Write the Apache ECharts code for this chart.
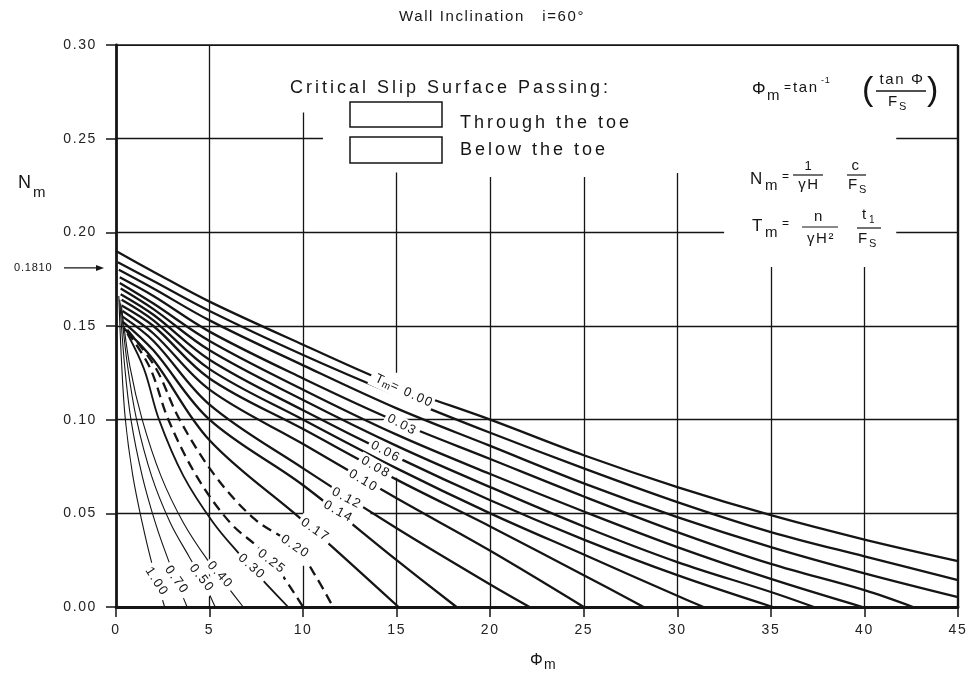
<!DOCTYPE html>
<html><head><meta charset="utf-8">
<script src="https://cdn.jsdelivr.net/npm/echarts@6/dist/echarts.min.js"></script>
<style>html,body{margin:0;padding:0;background:#fff}#c{width:972px;height:677px}</style>
</head><body><div id="c"></div>
<script>
// ---------- data ----------
const phiTicks = [0, 5, 10, 15, 20, 25, 30, 35, 40, 45];
const nmTicks = [0.00, 0.05, 0.10, 0.15, 0.20, 0.25, 0.30];

// Tm curves : [phi_m (deg), N_m]
const tm000 = [[0,0.190],[2,0.179],[5,0.163],[10,0.140],[15,0.118],[20,0.100],[25,0.081],[30,0.064],[35,0.049],[40,0.036],[45,0.0245]];
const tm001 = [[0.1,0.184],[2,0.174],[5,0.158],[10,0.1345],[15,0.113],[20,0.093],[25,0.074],[30,0.056],[35,0.040],[40,0.027],[45,0.0144]];
const tm002 = [[0.15,0.180],[2,0.170],[5,0.153],[10,0.129],[15,0.106],[20,0.086],[25,0.066],[30,0.048],[35,0.032],[40,0.018],[45,0.0053]];
const tm003 = [[0.2,0.176],[2,0.166],[5,0.147],[10,0.122],[15,0.099],[20,0.079],[25,0.059],[30,0.040],[35,0.023],[40,0.009],[42.6,0]];
const tm004 = [[0.2,0.173],[2,0.162],[5,0.142],[10,0.116],[15,0.092],[20,0.071],[25,0.051],[30,0.032],[35,0.015],[39.9,0]];
const tm005 = [[0.25,0.170],[2,0.159],[5,0.137],[10,0.1105],[15,0.086],[20,0.064],[25,0.043],[30,0.024],[35,0.008],[37.3,0]];
const tm006 = [[0.25,0.167],[2,0.156],[5,0.132],[10,0.105],[15,0.080],[20,0.057],[25,0.036],[30,0.017],[35.1,0]];
const tm007 = [[0.3,0.164],[2,0.153],[5,0.127],[10,0.100],[15,0.074],[20,0.050],[25,0.028],[30,0.006],[31.4,0]];
const tm008 = [[0.3,0.161],[2,0.150],[5,0.122],[10,0.095],[15,0.068],[20,0.043],[25,0.017],[28.2,0]];
const tm010 = [[0.35,0.158],[2,0.146],[5,0.116],[10,0.087],[15,0.058],[20,0.030],[25.0,0]];
const tm012 = [[0.35,0.155],[2,0.142],[5,0.108],[10,0.074],[15,0.042],[20,0.012],[22.1,0]];
const tm014 = [[0.4,0.152],[2,0.137],[5,0.100],[10,0.065],[15,0.025],[18.2,0]];
const tm017 = [[0.4,0.149],[2,0.132],[5,0.089],[10,0.046],[15.1,0]];
const tm020 = [[0.6,0.148],[2.1,0.128],[3.4,0.100],[5.3,0.070],[7.4,0.047],[9.6,0.032],[10.7,0.016],[11.6,0]];
const tm025 = [[0.6,0.147],[1.8,0.128],[2.8,0.100],[4.3,0.070],[6.1,0.045],[7.7,0.031],[8.6,0.021],[10.0,0]];
const tm030 = [[0.6,0.146],[1.5,0.127],[2.3,0.100],[3.6,0.070],[5.2,0.045],[6.7,0.027],[7.5,0.018],[9.2,0]];
const tm040 = [[0.3,0.160],[0.75,0.128],[1.4,0.100],[2.4,0.070],[3.6,0.045],[4.9,0.025],[6.8,0]];
const tm050 = [[0.25,0.162],[0.6,0.130],[1.1,0.100],[1.9,0.070],[2.9,0.045],[3.9,0.027],[4.6,0.015],[5.3,0]];
const tm070 = [[0.2,0.164],[0.45,0.130],[0.8,0.100],[1.4,0.070],[2.1,0.045],[2.8,0.025],[3.8,0]];
const tm100 = [[0.15,0.166],[0.3,0.130],[0.5,0.100],[0.9,0.070],[1.4,0.045],[1.9,0.024],[2.6,0]];

const markedNm = 0.1810;

// ---------- series definitions (style only) ----------
const thick = {width: 2.3, type: 'solid'};
const dashed = {width: 2.3, type: [10, 6]};
const thin = {width: 1.1, type: 'solid'};
const curveDefs = [
  ['0.00', tm000, thick], ['0.01', tm001, thick], ['0.02', tm002, thick], ['0.03', tm003, thick],
  ['0.04', tm004, thick], ['0.05', tm005, thick], ['0.06', tm006, thick], ['0.07', tm007, thick],
  ['0.08', tm008, thick], ['0.10', tm010, thick], ['0.12', tm012, thick], ['0.14', tm014, thick],
  ['0.17', tm017, thick], ['0.20', tm020, dashed], ['0.25', tm025, dashed], ['0.30', tm030, {width:1.8,type:'solid'}],
  ['0.40', tm040, thin], ['0.50', tm050, thin], ['0.70', tm070, thin], ['1.00', tm100, thin]
];

// label anchors on the curves [text, phi, Nm, clockwise rotation deg]
const curveLabelPos = [
  ['0.00', 15.29, 0.1158, 25], ['0.03', 15.29, 0.0972, 28], ['0.06', 14.41, 0.0829, 28],
  ['0.08', 13.88, 0.0746, 30], ['0.10', 13.22, 0.0674, 31], ['0.12', 12.33, 0.0580, 28],
  ['0.14', 11.88, 0.0509, 29], ['0.17', 10.64, 0.0411, 34], ['0.20', 9.57, 0.0322, 34],
  ['0.25', 8.32, 0.0242, 38], ['0.30', 7.25, 0.0215, 42], ['0.40', 5.56, 0.0171, 48],
  ['0.50', 4.58, 0.0153, 52], ['0.70', 3.24, 0.0144, 54], ['1.00', 2.17, 0.0135, 57]
];

// drafted grid segments [phi1, Nm1, phi2, Nm2, width]
const gridSegs = [
  [0,0.25,11.06,0.25,1.3],[41.7,0.25,45,0.25,1.3],
  [0,0.20,32.5,0.20,1.3],[41.7,0.20,45,0.20,1.3],
  [0,0.15,45,0.15,1.3],[0,0.10,45,0.10,1.3],
  [0,0.05,10,0.05,1.3],[13.6,0.05,45,0.05,1.3],
  [0,0.30,45,0.30,2.2],
  [5,0.30,5,0,1.3],
  [10,0.264,10,0.05,1.3],[10,0.022,10,0,1.3],
  [15,0.232,15,0.125,1.3],[15,0.069,15,0,1.3],
  [20,0.2296,20,0,1.3],[25,0.2296,25,0,1.3],[30,0.2317,30,0,1.3],
  [35,0.1815,35,0,1.3],[40,0.1815,40,0,1.3],
  [45,0.30,45,0,2.4]
];

// wide drafting-style letter spacing for the canvas text
(function () {
  const P = CanvasRenderingContext2D.prototype;
  const orig = P.fillText;
  P.fillText = function (t, x, y, w) {
    const m = /(\d+(?:\.\d+)?)px/.exec(this.font || '');
    const fs = m ? parseFloat(m[1]) : 12;
    if ('letterSpacing' in this) this.letterSpacing = fs >= 17 ? '3px' : fs >= 12 ? '1.6px' : '0.8px';
    const r = orig.call(this, t, x, y, w);
    if ('letterSpacing' in this) this.letterSpacing = '0px';
    return r;
  };
})();

const FONT = "'Liberation Sans', Arial, sans-serif";
const INK = '#151515';

const chart = echarts.init(document.getElementById('c'), null, {renderer: 'canvas'});

const series = [{
  type: 'lines', coordinateSystem: 'cartesian2d', silent: true, z: 1,
  data: gridSegs.map(s => ({coords: [[s[0], s[1]], [s[2], s[3]]], lineStyle: {width: s[4]}})),
  lineStyle: {color: INK, width: 1.3, opacity: 1}
}].concat(curveDefs.map(d => ({
  name: 'Tm ' + d[0], type: 'line', data: d[1], showSymbol: false, symbol: 'none',
  smooth: 0.35, z: 3, silent: true,
  lineStyle: {color: INK, width: d[2].width, type: d[2].type, cap: 'butt'}
})));

chart.setOption({
  animation: false,
  backgroundColor: '#fff',
  grid: {left: 116, top: 45, width: 842, height: 562},
  xAxis: {
    type: 'value', min: phiTicks[0], max: phiTicks[phiTicks.length-1], interval: 5,
    axisLine: {show: true, onZero: false, lineStyle: {color: INK, width: 2.8}},
    axisTick: {show: true, length: 10, lineStyle: {color: INK, width: 1.5}},
    splitLine: {show: false},
    axisLabel: {color: '#222', fontSize: 14, fontFamily: FONT, margin: 16}
  },
  yAxis: {
    type: 'value', min: nmTicks[0], max: nmTicks[nmTicks.length-1], interval: 0.05,
    axisLine: {show: true, onZero: false, lineStyle: {color: INK, width: 2.8}},
    axisTick: {show: true, length: 10, lineStyle: {color: INK, width: 1.5}},
    splitLine: {show: false},
    axisLabel: {color: '#222', fontSize: 14, fontFamily: FONT, margin: 19, formatter: v => v.toFixed(2)}
  },
  series: series
});

// ---------- annotations ----------
function T(x, y, text, fs, extra) {
  return Object.assign({type: 'text', x: x, y: y, z: 100, silent: true,
    style: Object.assign({text: text, font: fs + 'px ' + FONT, fill: INK, align: 'left', verticalAlign: 'middle'}, (extra && extra.style) || {})},
    extra && extra.el ? extra.el : {});
}
function L(x1, y1, x2, y2, w) {
  return {type: 'line', z: 100, silent: true, shape: {x1: x1, y1: y1, x2: x2, y2: y2}, style: {stroke: INK, lineWidth: w || 1.2}};
}
const g = [];
// title
g.push(T(492, 17, 'Wall Inclination   i=60°', 15, {style: {align: 'center'}}));
// y-axis name
g.push(T(18, 183, 'N', 18));
g.push(T(33, 193, 'm', 15));
// x-axis name
g.push(T(530, 661, 'Φ', 16));
g.push(T(544, 665, 'm', 14));
// 0.1810 marker
const yMark = chart.convertToPixel({gridIndex: 0}, [0, markedNm])[1];
g.push(T(14, yMark, markedNm.toFixed(4), 11));
g.push(L(64, yMark, 97, yMark, 1.2));
g.push({type: 'polygon', z: 100, silent: true, shape: {points: [[104, yMark], [96, yMark - 3], [96, yMark + 3]]}, style: {fill: INK}});

// legend
g.push(T(290, 88, 'Critical Slip Surface Passing:', 18));
g.push({type: 'rect', z: 100, silent: true, shape: {x: 350, y: 102, width: 92, height: 25}, style: {fill: '#fff', stroke: INK, lineWidth: 1.5}});
g.push({type: 'rect', z: 100, silent: true, shape: {x: 350, y: 137, width: 92, height: 26}, style: {fill: '#fff', stroke: INK, lineWidth: 1.5}});
g.push(T(460, 123, 'Through the toe', 18));
g.push(T(460, 150, 'Below the toe', 18));

// formula 1: Φm = tan^-1 (tan Φ / Fs)
g.push(T(752, 89, 'Φ', 17));
g.push(T(767, 96, 'm', 15));
g.push(T(784, 88, '=', 12));
g.push(T(793, 88, 'tan', 15));
g.push(T(821, 81, '-1', 9));
g.push(T(862, 91, '(', 34));
g.push(T(902, 80, 'tan Φ', 15, {style: {align: 'center'}}));
g.push(L(876, 91, 926, 91, 1.3));
g.push(T(888, 102, 'F', 15));
g.push(T(899, 107, 'S', 11));
g.push(T(927, 91, ')', 34));
// formula 2: Nm = 1/γH  c/Fs
g.push(T(750, 179, 'N', 17));
g.push(T(765, 186, 'm', 15));
g.push(T(782, 177, '=', 12));
g.push(T(809, 166, '1', 13, {style: {align: 'center'}}));
g.push(L(793, 175, 823, 175, 1.2));
g.push(T(809, 185, 'γH', 15, {style: {align: 'center'}}));
g.push(T(856, 166, 'c', 15, {style: {align: 'center'}}));
g.push(L(847, 175, 866, 175, 1.2));
g.push(T(848, 185, 'F', 15));
g.push(T(859, 190, 'S', 11));
// formula 3: Tm = n/γH²  t1/Fs
g.push(T(752, 226, 'T', 17));
g.push(T(765, 233, 'm', 15));
g.push(T(782, 224, '=', 12));
g.push(T(819, 217, 'n', 15, {style: {align: 'center'}}));
g.push(L(802, 227, 838, 227, 1.2));
g.push(T(821, 239, 'γH²', 15, {style: {align: 'center'}}));
g.push(T(862, 215, 't', 15));
g.push(T(869, 220, '1', 10));
g.push(L(857, 228, 881, 228, 1.2));
g.push(T(858, 239, 'F', 15));
g.push(T(869, 244, 'S', 11));

// curve labels
curveLabelPos.forEach(c => {
  const p = chart.convertToPixel({gridIndex: 0}, [c[1], c[2]]);
  const isTop = c[0] === '0.00';
  g.push({type: 'text', x: p[0], y: p[1], rotation: -c[3] * Math.PI / 180, z: 100, silent: true,
    style: {
      text: isTop ? '{s|T}{m|m}{s| = 0.00}' : c[0],
      rich: {s: {fontSize: 13, fontFamily: FONT, fill: INK}, m: {fontSize: 10, fontFamily: FONT, fill: INK, padding: [6, 0, 0, 0]}},
      font: '13px ' + FONT, fill: INK, align: 'center', verticalAlign: 'middle',
      backgroundColor: '#fff', padding: [1, 6]
    }});
});

chart.setOption({graphic: g});
</script>
</body></html>
